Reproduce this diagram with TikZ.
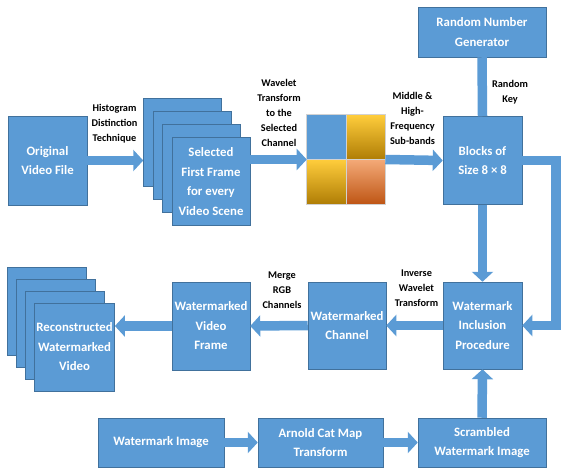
\documentclass[tikz,border=0pt]{standalone}
\usepackage{fontspec}
\setmainfont{Carlito}
\usetikzlibrary{arrows.meta}
\definecolor{boxblue}{RGB}{91,155,213}
\definecolor{boxedge}{RGB}{65,113,156}
\definecolor{goldtop}{RGB}{255,205,60}
\definecolor{goldbot}{RGB}{175,125,5}
\definecolor{orangetop}{RGB}{244,170,120}
\definecolor{orangebot}{RGB}{190,85,20}

\tikzset{
  box/.style={fill=boxblue, draw=boxedge, line width=0.5pt, text=white,
              font=\fontsize{12.8}{19.5}\selectfont\bfseries, align=center, inner sep=2pt},
  lbl/.style={font=\fontsize{10.3}{15}\selectfont\bfseries, align=center, inner sep=0pt},
  flow/.style={boxblue, line width=9.5pt, -{Triangle[width=21pt,length=10pt]}}
}

\begin{document}
\begin{tikzpicture}[x=1pt,y=-1pt]
    \useasboundingbox (0,0) rectangle (561,470);

    % top row
    \node[box, minimum width=79, minimum height=89] (orig) at (47.5,160.5) {Original\\Video File};
    \foreach \i in {0,1,2}
        \node[box, minimum width=78, minimum height=88] (sel\i) at ({182.5+9.5*\i},{142.5+13*\i}) {};
    \node[box, minimum width=78, minimum height=88] (sel3) at (211,181.5)
        {Selected\\First Frame\\for every\\Video Scene};

    % sub-band square
    \node[draw=gray!35, line width=0.6pt, minimum width=78, minimum height=89, inner sep=0pt] (sq) at (346,159.5) {};
    \fill[boxblue] (sq.north west) rectangle (sq.center);
    \shade[top color=goldtop, bottom color=goldbot] (sq.north) rectangle (sq.east);
    \shade[top color=goldtop, bottom color=goldbot] (sq.west) rectangle (sq.south);
    \shade[top color=orangetop, bottom color=orangebot] (sq.center) rectangle (sq.south east);
    \draw[gray!35, line width=0.6pt] (sq.north west) rectangle (sq.south east)
        (sq.north) -- (sq.south) (sq.west) -- (sq.east);

    \node[box, minimum width=79, minimum height=88] (blocks) at (482.5,160.5) {Blocks of\\Size 8 × 8};
    \node[box, minimum width=128, minimum height=50] (rng) at (482,32) {Random Number\\Generator};

    % middle row
    \node[box, minimum width=79, minimum height=87] (incl) at (482.5,325.5) {Watermark\\Inclusion\\Procedure};
    \node[box, minimum width=78, minimum height=87] (chan) at (347,325.5) {Watermarked\\Channel};
    \node[box, minimum width=78, minimum height=88] (frame) at (211,326) {Watermarked\\Video\\Frame};
    \foreach \i in {0,1,2}
        \node[box, minimum width=79, minimum height=88] (rec\i) at ({46.5+9.33*\i},{311+12*\i}) {};
    \node[box, minimum width=79, minimum height=88] (rec3) at (74.5,347) {Reconstructed\\Watermarked\\Video};

    % bottom row
    \node[box, minimum width=126, minimum height=49] (wmimg) at (161,442.5) {Watermark Image};
    \node[box, minimum width=125, minimum height=49] (arnold) at (320.5,442.5) {Arnold Cat Map\\Transform};
    \node[box, minimum width=128, minimum height=49] (scram) at (482,442.5) {Scrambled\\Watermark Image};

    % connectors
    \draw[flow] (orig.east) -- (orig.east -| sel0.west);
    \draw[flow] (sel3.east |- sq.west) -- (sq.west);
    \draw[flow] (sq.east) -- (blocks.west);
    \draw[boxblue, line width=9.5pt] (rng.south) -- (blocks.north);
    \draw[flow] (blocks.south) -- (incl.north);
    \coordinate (rt) at (556,240);
    \draw[flow] (blocks.east) -| (rt) |- (incl.east);
    \draw[flow] (incl.west) -- (chan.east);
    \draw[flow] (chan.west) -- (frame.east);
    \draw[flow] (frame.west) -- (frame.west -| rec3.east);
    \draw[flow] (wmimg.east) -- (arnold.west);
    \draw[flow] (arnold.east) -- (scram.west);
    \draw[flow] (scram.north) -- (incl.south);

    % labels
    \node[lbl] (hist) at (114.5,124) {Histogram\\Distinction\\Technique};
    \node[lbl] (wave) at (279,112.5) {Wavelet\\Transform\\to the\\Selected\\Channel};
    \node[lbl] (band) at (412.5,118) {Middle \&\\High-\\Frequency\\Sub-bands};
    \node[lbl] (key) at (510,92) {Random\\Key};
    \node[lbl] (inv) at (416.5,288) {Inverse\\Wavelet\\Transform};
    \node[lbl] (merge) at (282,290) {Merge\\RGB\\Channels};
\end{tikzpicture}
\end{document}
